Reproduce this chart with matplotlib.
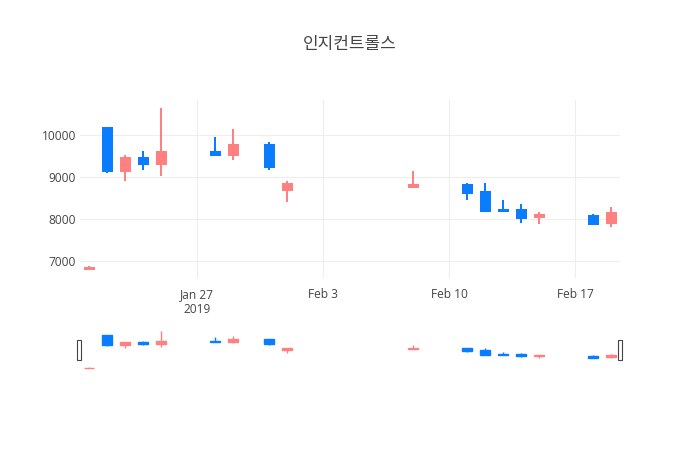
import pandas as pd
import matplotlib
matplotlib.use("Agg")
from matplotlib import pyplot as plt
import matplotlib.dates as mdates
from matplotlib.patches import Rectangle

dates = ["2019-01-21", "2019-01-22", "2019-01-23", "2019-01-24", "2019-01-25",
         "2019-01-28", "2019-01-29", "2019-01-31", "2019-02-01", "2019-02-08",
         "2019-02-11", "2019-02-12", "2019-02-13", "2019-02-14", "2019-02-15",
         "2019-02-18", "2019-02-19"]
opens = [6800, 10170, 9150, 9470, 9310, 9610, 9530, 9760, 8690, 8770,
         8820, 8640, 8220, 8220, 8040, 8080, 7900]
highs = [6870, 10170, 9520, 9630, 10650, 9970, 10150, 9830, 8900, 9140,
         8860, 8850, 8450, 8350, 8160, 8110, 8280]
lows = [6780, 9100, 8910, 9170, 9020, 9510, 9410, 9180, 8400, 8770,
        8460, 8180, 8160, 7900, 7880, 7880, 7810]
closes = [6830, 9150, 9470, 9310, 9610, 9530, 9760, 9250, 8830, 8820,
          8610, 8180, 8180, 8020, 8100, 7880, 8140]
title = "인지컨트롤스"

UP = "#FF8080"
DOWN = "#0A7CFF"
TXT = "#444444"
GRID = "#EEEEEE"

plt.rcParams['font.family'] = ['Open Sans', 'Noto Sans CJK KR', 'DejaVu Sans']

x = mdates.date2num(pd.to_datetime(dates))


def draw_candles(ax, lw, width):
    for xi, o, h, l, c in zip(x, opens, highs, lows, closes):
        col = UP if c >= o else DOWN
        ax.plot([xi, xi], [l, h], color=col, lw=lw, solid_capstyle='butt', zorder=2)
        ax.bar(xi, max(abs(c - o), 1), width=width, bottom=min(o, c), color=col,
               edgecolor=col, linewidth=lw, zorder=3)


W, H = 700, 450
fig = plt.figure(figsize=(W / 100, H / 100), dpi=100)

# main chart
ax = fig.add_axes([80 / W, (H - 278) / H, 540 / W, 178 / H])
draw_candles(ax, 1.44, 0.5)
ax.set_xlim(x[0] - 0.5, x[-1] + 0.5)
ax.set_ylim(6590, 10845)
ax.set_yticks([7000, 8000, 9000, 10000])
ticks = mdates.date2num(pd.to_datetime(["2019-01-27", "2019-02-03", "2019-02-10", "2019-02-17"]))
ax.set_xticks(ticks)
ax.set_xticklabels(["Jan 27\n2019", "Feb 3", "Feb 10", "Feb 17"])
ax.tick_params(length=0, labelsize=8.6, colors=TXT)
ax.tick_params(axis='x', pad=7)
ax.tick_params(axis='y', pad=3)
ax.grid(color=GRID, lw=0.8, zorder=0)
ax.set_axisbelow(True)
for s in ax.spines.values():
    s.set_visible(False)

# range slider
sl = fig.add_axes([80 / W, (H - 370) / H, 540 / W, 41 / H])
draw_candles(sl, 1.0, 0.55)
sl.set_xlim(x[0] - 0.5, x[-1] + 0.5)
pad = (max(highs) - min(lows)) * 0.05
sl.set_ylim(min(lows) - pad, max(highs) + pad)
sl.set_xticks([])
sl.set_yticks([])
for s in sl.spines.values():
    s.set_visible(False)

for hx in (77, 618):
    fig.patches.append(Rectangle((hx / W, (H - 360) / H), 4 / W, 20 / H,
                                 transform=fig.transFigure, facecolor='white',
                                 edgecolor=TXT, lw=0.8, zorder=5))

fig.text(0.5, (H - 44) / H, title, ha='center', va='center', fontsize=12.2,
         color=TXT, family=['Noto Sans CJK KR', 'DejaVu Sans'])

fig.savefig("out.png", dpi=100)
